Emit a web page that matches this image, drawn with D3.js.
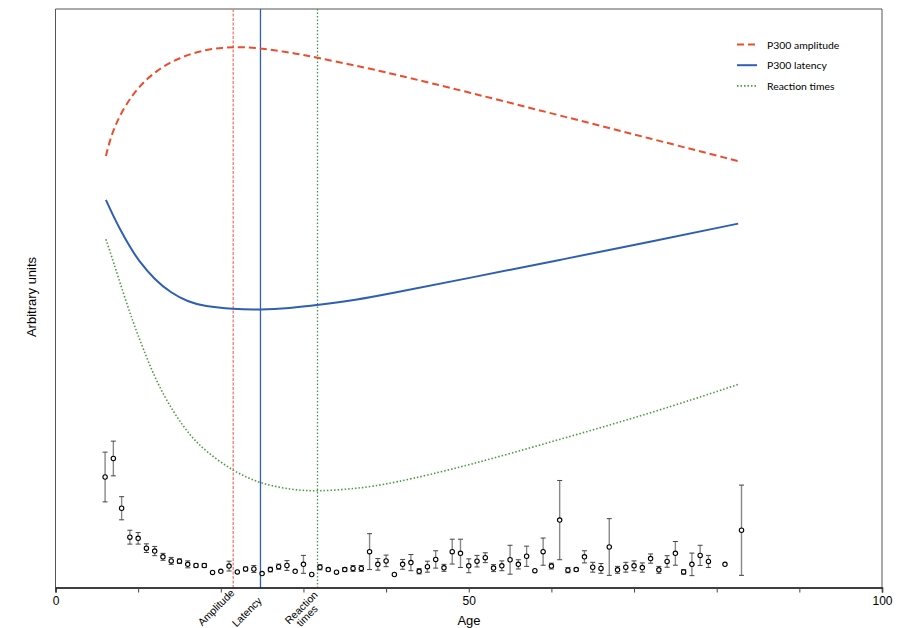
<!DOCTYPE html>
<html><head><meta charset="utf-8">
<script src="https://cdn.jsdelivr.net/npm/d3@7"></script>
<style>body{margin:0;background:#fff}svg{display:block}</style>
</head><body>
<svg id="chart" width="914" height="628"></svg>
<script>
// ---- data ----
const ampAges   = [6.1, 6.6, 7.2, 8.2, 9.4, 10.6, 12.2, 14.25, 16.3, 18.3, 20.3, 21.5, 23.1, 24.7, 28.4, 31.6, 36.4, 40.5, 50, 61, 72, 82.6];
const ampVals   = [74.6, 77.4, 79.8, 82.7, 85.3, 87.3, 89.3, 91.1, 92.2, 93.0, 93.3, 93.4, 93.4, 93.2, 92.5, 91.6, 90.2, 88.9, 85.6, 81.6, 77.6, 73.7];
const latAges   = [6.1, 7, 8, 9, 10, 12, 14, 16, 18, 21.5, 24.7, 28.4, 31.6, 36.4, 40.5, 50, 61, 72, 82.6];
const latVals   = [67.0, 64.2, 61.4, 58.9, 56.6, 53.2, 50.9, 49.4, 48.6, 48.1, 48.0, 48.3, 48.8, 49.7, 50.8, 53.5, 56.6, 59.8, 62.9];
const rtAges    = [6.1, 7.0, 8.2, 9.4, 10.6, 12.2, 14.25, 16.3, 18.3, 21.5, 24.7, 28.4, 31.7, 36.4, 40.5, 50, 61, 72, 82.6];
const rtVals    = [60.2, 56.3, 50.9, 45.8, 41.3, 35.6, 30.3, 26.2, 23.4, 20.1, 18.0, 16.9, 16.6, 17.1, 17.9, 21.1, 25.6, 30.1, 35.1];

const ptAges  = [6,7,8,9,10,11,12,13,14,15,16,17,18,19,20,21,22,23,24,25,26,27,28,29,30,31,32,33,34,35,36,37,38,39,40,41,42,43,44,45,46,47,48,49,50,51,52,53,54,55,56,57,58,59,60,61,62,63,64,65,66,67,68,69,70,71,72,73,74,75,76,77,78,79,81,83];
const ptMeans = [19.1,22.3,13.7,8.7,8.5,6.8,6.3,5.3,4.6,4.55,4.0,3.8,3.8,2.6,2.8,3.7,2.7,3.2,3.2,2.4,3.1,3.6,3.8,2.8,4.0,2.25,3.5,3.1,2.65,3.1,3.3,3.3,6.2,4.0,4.6,2.25,4.0,4.3,2.8,3.6,4.85,3.4,6.2,5.9,3.75,4.55,5.15,3.35,3.75,4.8,4.0,5.4,2.9,6.2,3.7,11.65,3.0,3.1,5.3,3.5,3.3,7.0,3.05,3.5,3.75,3.45,5.0,3.05,4.5,5.9,2.7,4.0,5.55,4.5,4.0,9.9];
const ptErrs  = [4.3,3.0,2.0,1.2,1.0,0.75,0.8,0.6,0.6,0.4,0.6,0.3,0.35,0,0,0.85,0,0.35,0.6,0,0.4,0.45,0.85,0,1.55,0,0.45,0.25,0,0.35,0.5,0.5,3.1,1.0,1.0,0,0.85,1.4,0.45,0.95,1.5,0.6,2.15,2.45,1.2,1.0,0.85,0.6,0.85,2.5,0.8,1.75,0,2.35,0.5,6.85,0.45,0.25,1.05,0.85,0.85,4.9,0.6,0.85,0.85,0.8,0.8,0.6,1.0,2.05,0.4,1.95,1.75,1.05,0,7.8];

const markerAges   = [21.5, 24.8, 31.7];
const markerLabels = [["Amplitude"], ["Latency"], ["Reaction", "times"]];
const xTicks = [0,10,20,30,40,50,60,70,80,90,100];
const xTickLabels = ["0","","","","","50","","","","","100"];
const seriesNames = ["P300 amplitude", "P300 latency", "Reaction times"];

// ---- layout ----
const svg = d3.select("#chart");
const L = 55.5, R = 882, T = 9, B = 587.5;
const x = d3.scaleLinear().domain([0, 100]).range([L, R]);
const y = d3.scaleLinear().domain([0, 100]).range([B, T]);

const colors = ["#ef4b2c", "#2d5fb2", "#4a9b3c"];
const vColors = ["#f07c6e", "#2d5fb2", "#3f9a45"];
const dashes = ["7,4", null, "1.5,2"];
const widths = [2, 2, 1.6];

// frame
svg.append("path")
  .attr("d", `M${L},${B}V${T}H${R}V${B}`)
  .attr("fill", "none").attr("stroke", "#555").attr("stroke-width", 1);

// vertical marker lines
const vDash = ["3,1.5", null, "1.5,2"];
markerAges.forEach((a, i) => {
  svg.append("line")
    .attr("x1", x(a)).attr("x2", x(a)).attr("y1", T).attr("y2", B)
    .attr("stroke", vColors[i]).attr("stroke-width", 1.3)
    .attr("stroke-dasharray", vDash[i]);
});

// curves
const series = [
  ampAges.map((a, i) => [a, ampVals[i]]),
  latAges.map((a, i) => [a, latVals[i]]),
  rtAges.map((a, i) => [a, rtVals[i]])
];
const line = d3.line().x(d => x(d[0])).y(d => y(d[1])).curve(d3.curveBasis);
series.forEach((s, i) => {
  svg.append("path").attr("d", line(s)).attr("fill", "none")
    .attr("stroke", colors[i]).attr("stroke-width", widths[i])
    .attr("stroke-dasharray", dashes[i]);
});

// error bars & points
const pts = ptAges.map((a, i) => ({a, m: ptMeans[i], e: ptErrs[i]}));
const eb = svg.append("g");
pts.filter(d => d.e > 0).forEach(d => {
  eb.append("line").attr("x1", x(d.a)).attr("x2", x(d.a))
    .attr("y1", y(d.m - d.e)).attr("y2", y(d.m + d.e))
    .attr("stroke", "#888").attr("stroke-width", 1.4);
  [d.m - d.e, d.m + d.e].forEach(v => {
    eb.append("line").attr("x1", x(d.a) - 2.5).attr("x2", x(d.a) + 2.5)
      .attr("y1", y(v)).attr("y2", y(v))
      .attr("stroke", "#444").attr("stroke-width", 1);
  });
});
svg.append("g").selectAll("circle").data(pts).join("circle")
  .attr("cx", d => x(d.a)).attr("cy", d => y(d.m)).attr("r", 2.2)
  .attr("fill", "#fff").attr("stroke", "#000").attr("stroke-width", 1.1);

// x axis
const xa = svg.append("g").attr("transform", `translate(0,${B})`)
  .call(d3.axisBottom(x).tickValues(xTicks).tickSize(5).tickPadding(4)
    .tickFormat((d, i) => xTickLabels[i]));
xa.select(".domain").attr("stroke", "#000").attr("stroke-width", 1.5);
xa.selectAll(".tick line").attr("stroke", "#444");
xa.selectAll("text").attr("font-family", "Liberation Sans, Arial, sans-serif")
  .attr("font-size", 12).attr("fill", "#000");

// rotated marker labels
const labOff = [[2, 6], [2, 14], [1, 8]];
markerAges.forEach((a, i) => {
  markerLabels[i].forEach((t, j) => {
    const px = x(a) + labOff[i][0], py = B + labOff[i][1] + j * 14;
    svg.append("text").attr("transform", `translate(${px},${py}) rotate(-45)`)
      .attr("text-anchor", "end")
      .attr("font-family", "Liberation Sans, Arial, sans-serif")
      .attr("font-size", 10.5).attr("fill", "#000").text(t);
  });
});

// axis titles
svg.append("text").attr("x", 469).attr("y", 625).attr("text-anchor", "middle")
  .attr("font-family", "Liberation Sans, Arial, sans-serif").attr("font-size", 13).text("Age");
svg.append("text").attr("transform", "translate(36,297) rotate(-90)").attr("text-anchor", "middle")
  .attr("font-family", "Liberation Sans, Arial, sans-serif").attr("font-size", 13).text("Arbitrary units");

// legend
const lg = svg.append("g");
seriesNames.forEach((n, i) => {
  const ly = 44.5 + i * 20.7;
  lg.append("line").attr("x1", 737).attr("x2", 757).attr("y1", ly).attr("y2", ly)
    .attr("stroke", colors[i]).attr("stroke-width", widths[i])
    .attr("stroke-dasharray", dashes[i]);
  lg.append("text").attr("x", 767).attr("y", ly + 4)
    .attr("font-family", "Lato, 'Open Sans', sans-serif").attr("font-size", 10.4)
    .attr("fill", "#000").text(n);
});
</script>
</body></html>
